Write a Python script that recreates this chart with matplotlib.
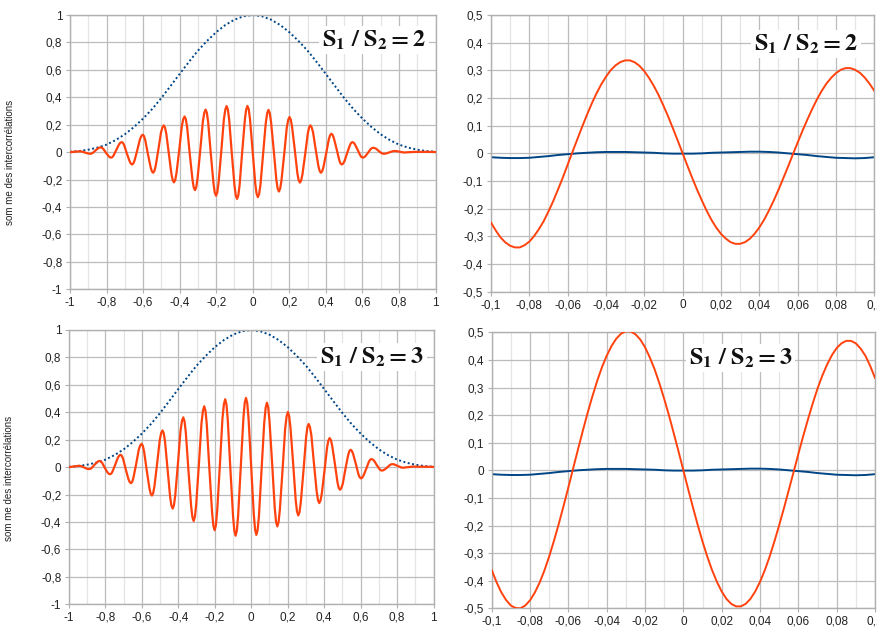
import matplotlib
matplotlib.use("Agg")
import matplotlib.pyplot as plt
from matplotlib.ticker import FixedLocator, FixedFormatter, MultipleLocator

plt.rcParams['font.family'] = ['Liberation Sans', 'DejaVu Sans']
plt.rcParams['mathtext.fontset'] = 'stix'

# ---------------- data ----------------
ratio_labels = [r'$\mathbf{S_1\ /\ S_2 = 2}$', r'$\mathbf{S_1\ /\ S_2 = 3}$']
ylabel_text = "som me des intercorrélations"

# left panels : x positions shared by both red curves
x_left = [-1.0, -0.975,
          -0.946, -0.939, -0.932, -0.918, -0.903, -0.896,
          -0.889, -0.882, -0.875, -0.861, -0.846, -0.839,
          -0.832, -0.825, -0.818, -0.804, -0.789, -0.782,
          -0.775, -0.768, -0.761, -0.746, -0.732, -0.724,
          -0.717, -0.710, -0.703, -0.689, -0.674, -0.667,
          -0.660, -0.653, -0.646, -0.631, -0.617, -0.609,
          -0.602, -0.595, -0.588, -0.574, -0.559, -0.552,
          -0.545, -0.538, -0.531, -0.516, -0.502, -0.494,
          -0.487, -0.480, -0.473, -0.459, -0.445, -0.438,
          -0.431, -0.424, -0.417, -0.402, -0.388, -0.380,
          -0.373, -0.366, -0.359, -0.345, -0.330, -0.323,
          -0.316, -0.309, -0.302, -0.287, -0.273, -0.265,
          -0.258, -0.251, -0.244, -0.230, -0.215, -0.208,
          -0.201, -0.194, -0.187, -0.172, -0.158, -0.150,
          -0.143, -0.136, -0.129, -0.115, -0.100, -0.093,
          -0.086, -0.079, -0.072, -0.058, -0.043, -0.036,
          -0.029, -0.022, -0.015, 0.000, 0.014, 0.021,
          0.028, 0.035, 0.042, 0.057, 0.071, 0.079,
          0.086, 0.093, 0.100, 0.115, 0.129, 0.136,
          0.143, 0.150, 0.157, 0.172, 0.186, 0.194,
          0.201, 0.208, 0.215, 0.230, 0.244, 0.251,
          0.258, 0.265, 0.272, 0.287, 0.301, 0.308,
          0.315, 0.322, 0.330, 0.344, 0.359, 0.366,
          0.373, 0.380, 0.387, 0.402, 0.416, 0.423,
          0.430, 0.437, 0.444, 0.459, 0.473, 0.480,
          0.487, 0.494, 0.502, 0.516, 0.531, 0.538,
          0.545, 0.552, 0.559, 0.574, 0.588, 0.595,
          0.602, 0.609, 0.616, 0.631, 0.645, 0.652,
          0.659, 0.666, 0.674, 0.688, 0.703, 0.710,
          0.717, 0.724, 0.731, 0.746, 0.760, 0.767,
          0.774, 0.781, 0.788, 0.803, 0.817, 0.824,
          0.831, 0.838, 0.845, 0.860, 0.874, 0.882,
          0.889, 0.920, 0.950, 1.0]

sum_ratio2 = [0.000, 0.003,
              0.006, 0.005, 0.003, -0.003, -0.009, -0.011,
              -0.012, -0.010, -0.005, 0.012, 0.028, 0.033,
              0.035, 0.032, 0.024, -0.003, -0.029, -0.037,
              -0.040, -0.036, -0.023, 0.017, 0.056, 0.069,
              0.073, 0.067, 0.049, -0.009, -0.066, -0.084,
              -0.090, -0.082, -0.058, 0.019, 0.095, 0.119,
              0.127, 0.117, 0.086, -0.012, -0.109, -0.140,
              -0.150, -0.137, -0.099, 0.023, 0.144, 0.182,
              0.195, 0.179, 0.134, -0.013, -0.159, -0.204,
              -0.220, -0.202, -0.150, 0.020, 0.190, 0.242,
              0.260, 0.240, 0.181, -0.009, -0.198, -0.257,
              -0.277, -0.255, -0.191, 0.017, 0.224, 0.288,
              0.310, 0.286, 0.218, -0.004, -0.226, -0.294,
              -0.318, -0.293, -0.222, 0.009, 0.240, 0.311,
              0.336, 0.310, 0.237, -0.003, -0.242, -0.315,
              -0.341, -0.315, -0.242, -0.002, 0.238, 0.311,
              0.337, 0.312, 0.240, 0.000, -0.232, -0.303,
              -0.328, -0.304, -0.240, -0.006, 0.210, 0.284,
              0.308, 0.285, 0.221, 0.011, -0.200, -0.264,
              -0.287, -0.266, -0.208, -0.016, 0.177, 0.235,
              0.256, 0.238, 0.186, 0.017, -0.152, -0.204,
              -0.222, -0.206, -0.161, -0.014, 0.134, 0.179,
              0.195, 0.182, 0.145, 0.023, -0.100, -0.137,
              -0.150, -0.139, -0.108, -0.008, 0.092, 0.123,
              0.134, 0.126, 0.101, 0.022, -0.057, -0.082,
              -0.090, -0.084, -0.066, -0.009, 0.049, 0.067,
              0.073, 0.069, 0.057, 0.017, -0.023, -0.036,
              -0.040, -0.037, -0.030, -0.004, 0.022, 0.029,
              0.032, 0.030, 0.026, 0.010, -0.006, -0.010,
              -0.012, -0.011, -0.009, -0.002, 0.005, 0.007,
              0.008, 0.008, 0.007, 0.003, -0.001, -0.002,
              -0.002, -0.002, -0.001, 0.000, 0.001, 0.002,
              0.002, 0.002, 0.002, 0.001]

sum_ratio3 = [0.000, 0.005,
              0.010, 0.009, 0.007, -0.002, -0.011, -0.013,
              -0.014, -0.012, -0.005, 0.016, 0.036, 0.043,
              0.045, 0.041, 0.031, -0.004, -0.038, -0.048,
              -0.052, -0.047, -0.031, 0.019, 0.069, 0.085,
              0.090, 0.082, 0.060, -0.014, -0.087, -0.109,
              -0.117, -0.106, -0.075, 0.027, 0.128, 0.159,
              0.170, 0.156, 0.115, -0.019, -0.152, -0.193,
              -0.207, -0.189, -0.137, 0.031, 0.198, 0.250,
              0.268, 0.246, 0.185, -0.017, -0.219, -0.280,
              -0.302, -0.277, -0.205, 0.031, 0.266, 0.338,
              0.363, 0.334, 0.252, -0.015, -0.282, -0.364,
              -0.393, -0.361, -0.270, 0.026, 0.321, 0.412,
              0.444, 0.410, 0.312, -0.008, -0.328, -0.426,
              -0.460, -0.424, -0.320, 0.018, 0.355, 0.459,
              0.495, 0.457, 0.349, -0.003, -0.354, -0.462,
              -0.500, -0.462, -0.353, -0.005, 0.358, 0.467,
              0.505, 0.467, 0.359, 0.000, -0.345, -0.456,
              -0.494, -0.457, -0.360, -0.015, 0.320, 0.433,
              0.470, 0.436, 0.338, 0.019, -0.300, -0.398,
              -0.432, -0.400, -0.310, -0.015, 0.280, 0.370,
              0.402, 0.373, 0.292, 0.025, -0.242, -0.323,
              -0.352, -0.327, -0.254, -0.019, 0.217, 0.290,
              0.315, 0.293, 0.231, 0.027, -0.178, -0.240,
              -0.262, -0.244, -0.193, -0.025, 0.143, 0.194,
              0.212, 0.198, 0.157, 0.024, -0.110, -0.151,
              -0.165, -0.154, -0.122, -0.019, 0.084, 0.116,
              0.127, 0.119, 0.096, 0.023, -0.051, -0.074,
              -0.082, -0.077, -0.061, -0.012, 0.038, 0.054,
              0.059, 0.056, 0.047, 0.017, -0.013, -0.022,
              -0.025, -0.023, -0.018, -0.002, 0.015, 0.020,
              0.022, 0.021, 0.018, 0.009, 0.000, -0.003,
              -0.004, -0.004, -0.002, 0.000, 0.002, 0.004,
              0.004, 0.003, 0.003, 0.002]

# envelope (blue dotted)
x_env = [-1.0, -0.95, -0.9, -0.85, -0.8, -0.75, -0.7, -0.65, -0.6, -0.55, -0.5,
         -0.45, -0.4, -0.35, -0.3, -0.25, -0.2, -0.15, -0.1, -0.05, 0.0,
         0.05, 0.1, 0.15, 0.2, 0.25, 0.3, 0.35, 0.4, 0.45, 0.5,
         0.55, 0.6, 0.65, 0.7, 0.75, 0.8, 0.85, 0.9, 0.95, 1.0]
envelope = [0.003, 0.008, 0.018, 0.033, 0.055, 0.088, 0.130, 0.183, 0.245, 0.315, 0.395,
            0.482, 0.570, 0.657, 0.740, 0.811, 0.875, 0.927, 0.966, 0.991, 1.000,
            0.991, 0.966, 0.927, 0.875, 0.811, 0.740, 0.657, 0.570, 0.482, 0.395,
            0.315, 0.245, 0.183, 0.130, 0.088, 0.055, 0.033, 0.018, 0.008, 0.003]

# right panels (zoom around 0)
x_right = [-0.1000, -0.0975, -0.0950, -0.0925, -0.0900, -0.0875, -0.0850, -0.0825,
           -0.0800, -0.0775, -0.0750, -0.0725, -0.0700, -0.0675, -0.0650, -0.0625,
           -0.0600, -0.0575, -0.0550, -0.0525, -0.0500, -0.0475, -0.0450, -0.0425,
           -0.0400, -0.0375, -0.0350, -0.0325, -0.0300, -0.0275, -0.0250, -0.0225,
           -0.0200, -0.0175, -0.0150, -0.0125, -0.0100, -0.0075, -0.0050, -0.0025,
           0.0000, 0.0025, 0.0050, 0.0075, 0.0100, 0.0125, 0.0150, 0.0175,
           0.0200, 0.0225, 0.0250, 0.0275, 0.0300, 0.0325, 0.0350, 0.0375,
           0.0400, 0.0425, 0.0450, 0.0475, 0.0500, 0.0525, 0.0550, 0.0575,
           0.0600, 0.0625, 0.0650, 0.0675, 0.0700, 0.0725, 0.0750, 0.0775,
           0.0800, 0.0825, 0.0850, 0.0875, 0.0900, 0.0925, 0.0950, 0.0975, 0.1000]
zoom_ratio2 = [-0.250, -0.279, -0.304, -0.322, -0.334, -0.340, -0.340, -0.332,
               -0.319, -0.299, -0.274, -0.245, -0.210, -0.172, -0.130, -0.087,
               -0.041, 0.005, 0.050, 0.095, 0.138, 0.179, 0.216, 0.249,
               0.277, 0.301, 0.318, 0.330, 0.336, 0.336, 0.329, 0.316,
               0.297, 0.272, 0.243, 0.210, 0.172, 0.132, 0.089, 0.045,
               0.000, -0.045, -0.089, -0.131, -0.170, -0.207, -0.240, -0.268,
               -0.291, -0.308, -0.321, -0.327, -0.327, -0.321, -0.309, -0.291,
               -0.268, -0.240, -0.207, -0.171, -0.132, -0.090, -0.048, -0.004,
               0.039, 0.081, 0.121, 0.159, 0.194, 0.225, 0.252, 0.273,
               0.290, 0.302, 0.308, 0.308, 0.302, 0.291, 0.274, 0.252, 0.226]
zoom_ratio3 = [-0.361, -0.405, -0.442, -0.470, -0.490, -0.499, -0.500, -0.490,
               -0.471, -0.443, -0.407, -0.363, -0.312, -0.255, -0.194, -0.129,
               -0.062, 0.007, 0.075, 0.142, 0.207, 0.267, 0.323, 0.373,
               0.415, 0.450, 0.477, 0.495, 0.504, 0.503, 0.493, 0.474,
               0.446, 0.409, 0.366, 0.315, 0.259, 0.199, 0.134, 0.068,
               0.000, -0.068, -0.134, -0.198, -0.258, -0.313, -0.362, -0.404,
               -0.439, -0.466, -0.484, -0.493, -0.493, -0.484, -0.466, -0.439,
               -0.404, -0.362, -0.313, -0.258, -0.199, -0.137, -0.072, -0.007,
               0.059, 0.123, 0.184, 0.242, 0.296, 0.343, 0.383, 0.417,
               0.443, 0.460, 0.469, 0.469, 0.460, 0.441, 0.415, 0.378, 0.335]
x_right_blue = [-0.100, -0.095, -0.090, -0.085, -0.080, -0.075, -0.070, -0.065, -0.060, -0.055,
                -0.050, -0.045, -0.040, -0.035, -0.030, -0.025, -0.020, -0.015, -0.010, -0.005,
                0.000, 0.005, 0.010, 0.015, 0.020, 0.025, 0.030, 0.035, 0.040, 0.045,
                0.050, 0.055, 0.060, 0.065, 0.070, 0.075, 0.080, 0.085, 0.090, 0.095, 0.100]
zoom_blue = [-0.014, -0.016, -0.017, -0.017, -0.016, -0.013, -0.010, -0.006, -0.003, 0.000,
             0.002, 0.004, 0.005, 0.005, 0.005, 0.004, 0.003, 0.002, 0.000, -0.001,
             -0.001, -0.001, 0.000, 0.002, 0.003, 0.004, 0.005, 0.006, 0.006, 0.005,
             0.003, 0.000, -0.003, -0.006, -0.010, -0.013, -0.016, -0.017, -0.018, -0.017, -0.014]

# tick values and labels
left_ticks = [-1, -0.8, -0.6, -0.4, -0.2, 0, 0.2, 0.4, 0.6, 0.8, 1]
left_tick_labels = ['-1', '-0,8', '-0,6', '-0,4', '-0,2', '0', '0,2', '0,4', '0,6', '0,8', '1']
right_xticks = [-0.1, -0.08, -0.06, -0.04, -0.02, 0, 0.02, 0.04, 0.06, 0.08, 0.1]
right_xtick_labels = ['-0,1', '-0,08', '-0,06', '-0,04', '-0,02', '0', '0,02', '0,04', '0,06', '0,08', '0,1']
right_yticks = [-0.5, -0.4, -0.3, -0.2, -0.1, 0, 0.1, 0.2, 0.3, 0.4, 0.5]
right_ytick_labels = ['-0,5', '-0,4', '-0,3', '-0,2', '-0,1', '0', '0,1', '0,2', '0,3', '0,4', '0,5']

# ---------------- style ----------------
RED = '#ff420e'
BLUE = '#004586'
GRID_MAJ = '#bcbcbc'
GRID_MIN = '#e4e4e4'
TXT = '#222222'

W, H = 877, 630
fig = plt.figure(figsize=(W / 100, H / 100), dpi=100)


def px_axes(l, t, r, b):
    return fig.add_axes([l / W, 1 - b / H, (r - l) / W, (b - t) / H])


def style(ax, xt, xtl, yt, ytl, xminor):
    ax.xaxis.set_major_locator(FixedLocator(xt))
    ax.xaxis.set_major_formatter(FixedFormatter(xtl))
    ax.yaxis.set_major_locator(FixedLocator(yt))
    ax.yaxis.set_major_formatter(FixedFormatter(ytl))
    ax.xaxis.set_minor_locator(MultipleLocator(xminor))
    ax.grid(True, which='major', color=GRID_MAJ, lw=0.9)
    ax.grid(True, which='minor', axis='x', color=GRID_MIN, lw=0.9)
    ax.set_axisbelow(True)
    for s in ax.spines.values():
        s.set_color('#b0b0b0')
        s.set_linewidth(1.0)
    ax.tick_params(which='major', length=3, color='#b0b0b0', labelsize=8.5,
                   labelcolor=TXT, pad=2.5)
    ax.tick_params(which='minor', length=0)


def ratio_box(ax, label, xa, ya):
    ax.text(xa, ya, label, transform=ax.transAxes, ha='center', va='center',
            fontsize=17.5, color='#111111', zorder=5,
            bbox=dict(facecolor='white', edgecolor='none', pad=2.0))


left_axes_px = [(70, 15, 435.5, 289.3), (69, 330, 433.5, 604.3)]
right_axes_px = [(491, 15, 874.3, 291.7), (491.7, 332.3, 875, 608.3)]
left_sums = [sum_ratio2, sum_ratio3]
right_sums = [zoom_ratio2, zoom_ratio3]
left_box_pos = [(0.832, 0.909), (0.831, 0.902)]
right_box_pos = [(0.822, 0.895), (0.650, 0.907)]
ylabel_y = [0.462, 0.459]

for i in range(2):
    ax = px_axes(*left_axes_px[i])
    ax.plot(x_env, envelope, color=BLUE, lw=1.4, ls=(0, (1, 1.3)), zorder=2)
    ax.plot(x_left, left_sums[i], color=RED, lw=1.6, zorder=3)
    ax.set_xlim(-1, 1)
    ax.set_ylim(-1, 1)
    style(ax, left_ticks, left_tick_labels, left_ticks, left_tick_labels, 0.1)
    ax.set_ylabel(ylabel_text, fontsize=7, color=TXT)
    ax.yaxis.set_label_coords(-0.150, ylabel_y[i])
    ratio_box(ax, ratio_labels[i], *left_box_pos[i])

    axr = px_axes(*right_axes_px[i])
    axr.plot(x_right_blue, zoom_blue, color=BLUE, lw=1.4, zorder=2)
    axr.plot(x_right, right_sums[i], color=RED, lw=1.4, zorder=3)
    axr.set_xlim(-0.1, 0.1)
    axr.set_ylim(-0.5, 0.5)
    style(axr, right_xticks, right_xtick_labels, right_yticks, right_ytick_labels, 0.01)
    ratio_box(axr, ratio_labels[i], *right_box_pos[i])

fig.savefig('out.png', dpi=100)
